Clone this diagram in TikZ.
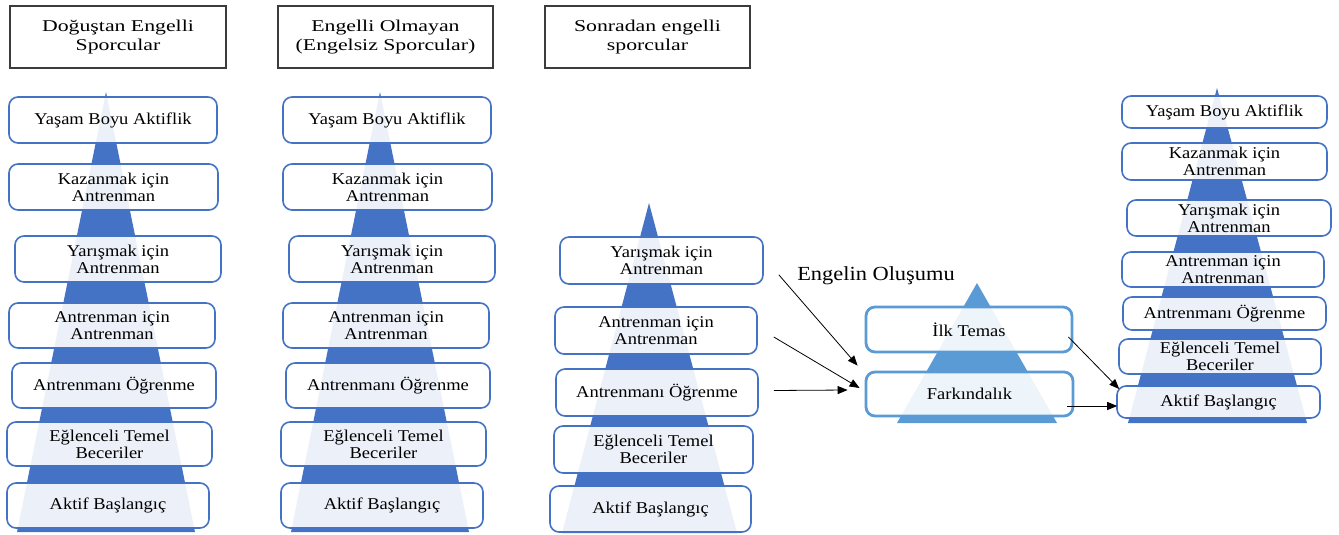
\documentclass[tikz,border=0pt]{standalone}
\usepackage{fontspec}
\setmainfont{Liberation Serif}
\newfontfamily\boxfont[FakeStretch=1.12]{Liberation Serif}
\newfontfamily\headfont[FakeStretch=1.32]{Liberation Serif}
\usetikzlibrary{arrows.meta,calc}
\definecolor{pblue}{RGB}{68,114,196}
\definecolor{mblue}{RGB}{91,155,213}
\definecolor{hdr}{RGB}{60,60,60}
\tikzset{
  stage/.style={draw=pblue, line width=1.6pt, rounded corners=9pt, fill=white, fill opacity=0.9, text opacity=1,
    font=\boxfont\fontsize{16.5}{17}\selectfont, align=center, inner sep=0pt},
  mstage/.style={stage, draw=mblue, line width=2.8pt},
  header/.style={draw=hdr, line width=1.3pt, fill=white, font=\headfont\fontsize{16.5}{18.5}\selectfont, align=center, inner sep=0pt},
  conn/.style={draw=black, line width=0.8pt, -{Triangle[length=10pt,width=8pt]}},
  pyr/.style={fill=pblue, draw=none},
  mpyr/.style={fill=mblue, draw=none}
}
\begin{document}
\begin{tikzpicture}[x=1pt,y=-1pt]
\useasboundingbox (0,0) rectangle (1339,535);
% headers
\node[header, minimum width=216, minimum height=62] (h1) at (118,37) {Doğuştan Engelli\\Sporcular};
\node[header, minimum width=215, minimum height=62] (h2) at (385.5,37) {Engelli Olmayan\\(Engelsiz Sporcular)};
\node[header, minimum width=205, minimum height=62] (h3) at (647.5,37) {Sonradan engelli\\sporcular};
% triangles
\fill[pyr] (106,92) -- (195,532) -- (17,532) -- cycle;
\fill[pyr] (380,92) -- (469,532) -- (291,532) -- cycle;
\fill[pyr] (649,203) -- (737,533) -- (562,533) -- cycle;
\fill[pyr] (1217,88) -- (1307,423) -- (1128,423) -- cycle;
\fill[mpyr] (977,283) -- (1057,423) -- (897,423) -- cycle;
% pyramid 1
\node[stage, minimum width=208, minimum height=46] (p1a) at (113,120) {Yaşam Boyu Aktiflik};
\node[stage, minimum width=209, minimum height=46] (p1b) at (113.5,187) {Kazanmak için\\Antrenman};
\node[stage, minimum width=206, minimum height=46] (p1c) at (118,259) {Yarışmak için\\Antrenman};
\node[stage, minimum width=206, minimum height=45] (p1d) at (112,325.5) {Antrenman için\\Antrenman};
\node[stage, minimum width=204, minimum height=45] (p1e) at (114,385.5) {Antrenmanı Öğrenme};
\node[stage, minimum width=205, minimum height=44] (p1f) at (109.5,444) {Eğlenceli Temel\\Beceriler};
\node[stage, minimum width=202, minimum height=45] (p1g) at (108,505.5) {Aktif Başlangıç};
% pyramid 2
\node[stage, minimum width=208, minimum height=46] (p2a) at (387,120) {Yaşam Boyu Aktiflik};
\node[stage, minimum width=209, minimum height=46] (p2b) at (387.5,187) {Kazanmak için\\Antrenman};
\node[stage, minimum width=206, minimum height=46] (p2c) at (392,259) {Yarışmak için\\Antrenman};
\node[stage, minimum width=206, minimum height=45] (p2d) at (386,325.5) {Antrenman için\\Antrenman};
\node[stage, minimum width=204, minimum height=45] (p2e) at (388,385.5) {Antrenmanı Öğrenme};
\node[stage, minimum width=205, minimum height=44] (p2f) at (383.5,444) {Eğlenceli Temel\\Beceriler};
\node[stage, minimum width=202, minimum height=45] (p2g) at (382,505.5) {Aktif Başlangıç};
% pyramid 3
\node[stage, minimum width=203, minimum height=47] (p3c) at (661.5,260.5) {Yarışmak için\\Antrenman};
\node[stage, minimum width=202, minimum height=47] (p3d) at (656,330.5) {Antrenman için\\Antrenman};
\node[stage, minimum width=202, minimum height=47] (p3e) at (657,392.5) {Antrenmanı Öğrenme};
\node[stage, minimum width=199, minimum height=47] (p3f) at (653.5,449.5) {Eğlenceli Temel\\Beceriler};
\node[stage, minimum width=201, minimum height=46] (p3g) at (650.5,509) {Aktif Başlangıç};
% pyramid 4
\node[stage, minimum width=205, minimum height=32] (p4a) at (1224.5,112) {Yaşam Boyu Aktiflik};
\node[stage, minimum width=205, minimum height=37] (p4b) at (1224.5,161.5) {Kazanmak için\\Antrenman};
\node[stage, minimum width=204, minimum height=36] (p4c) at (1229,218) {Yarışmak için\\Antrenman};
\node[stage, minimum width=202, minimum height=35] (p4d) at (1223,269.5) {Antrenman için\\Antrenman};
\node[stage, minimum width=203, minimum height=33] (p4e) at (1224.5,313.5) {Antrenmanı Öğrenme};
\node[stage, minimum width=202, minimum height=35] (p4f) at (1220,356.5) {Eğlenceli Temel\\Beceriler};
\node[stage, minimum width=203, minimum height=32] (p4g) at (1218.5,402) {Aktif Başlangıç};
% middle pyramid
\node[mstage, minimum width=206, minimum height=45] (m1) at (969,329.5) {İlk Temas};
\node[mstage, minimum width=207, minimum height=44] (m2) at (969.5,394) {Farkındalık};
\node[font=\boxfont\fontsize{20}{22}\selectfont, anchor=base, inner sep=0pt] (lbl) at (876,280) {Engelin Oluşumu};
% connectors
\draw[conn] ([shift={(15,-10)}]p3c.south east) -- ([shift={(-7,-5)}]m2.north west);
\draw[conn] ([shift={(16,6.5)}]p3d.east) -- ([shift={(-5,-6)}]m2.west);
\draw[conn] ([shift={(15,-2)}]p3e.east) -- ([shift={(-17,-4)}]m2.west);
\draw[conn] ([shift={(-5,7.5)}]m1.east) -- ([shift={(3,-13)}]p4g.west);
\draw[conn] ([shift={(-7,12)}]m2.east) -- ([shift={(1,4)}]p4g.west);
\end{tikzpicture}
\end{document}
